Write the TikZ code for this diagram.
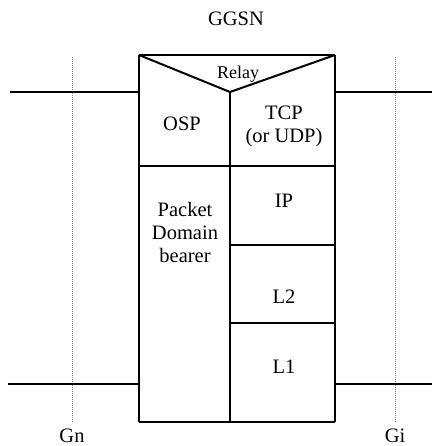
\documentclass[tikz,border=0pt]{standalone}
\usepackage{fontspec}
\setmainfont{Liberation Serif}
\begin{document}
\begin{tikzpicture}[x=1pt,y=-1pt,
  lbl/.style={font=\fontsize{20.5}{23}\selectfont, align=center, inner sep=0pt},
  heavy/.style={line width=2.6pt},
  edge/.style={line width=2pt},
  wire/.style={line width=1.6pt},
  refline/.style={line width=0.7pt, dash pattern=on 0.8pt off 1.2pt, gray}]
  \useasboundingbox (0,0) rectangle (432,446);

  % GGSN protocol stack outline
  \coordinate (tl) at (139,55);
  \coordinate (tr) at (335,55);
  \coordinate (bl) at (139,422);
  \coordinate (br) at (335,422);
  \coordinate (apex) at (230,92);
  \coordinate (bm) at (230,422);
  \coordinate (ml) at (139,166);
  \coordinate (mr) at (335,166);
  \coordinate (d1l) at (230,245);
  \coordinate (d1r) at (335,245);
  \coordinate (d2l) at (230,323);
  \coordinate (d2r) at (335,323);

  \draw[edge] (tl) -- (bl);
  \draw[edge] (tr) -- (br);
  \draw[heavy] (tl) -- (tr);
  \draw[heavy] (bl) -- (br);
  \draw[heavy] (apex) -- (bm);
  \draw[heavy] (ml) -- (mr);
  \draw[edge] (d1l) -- (d1r);
  \draw[edge] (d2l) -- (d2r);
  \draw[edge, line join=miter] (tl) -- (apex) -- (tr);

  % layer labels
  \node[lbl] (ggsn) at (236,19) {GGSN};
  \node[lbl, font=\fontsize{18}{20}\selectfont] (relay) at (238,74) {Relay};
  \node[lbl] (osp) at (182,124) {OSP};
  \node[lbl] (tcp) at (284,126) {TCP\\(or UDP)};
  \node[lbl] (pdb) at (185,232) {Packet\\Domain\\bearer};
  \node[lbl] (ip) at (284,201) {IP};
  \node[lbl] (l2) at (284,297) {L2};
  \node[lbl] (l1) at (284,367) {L1};

  % interface reference lines
  \coordinate (gnTop) at (72,57);
  \coordinate (gnBot) at (72,422);
  \coordinate (giTop) at (395,57);
  \coordinate (giBot) at (395,422);
  \draw[refline] (gnTop) -- (gnBot);
  \draw[refline] (giTop) -- (giBot);
  \node[lbl] (gn) at (72,436) {Gn};
  \node[lbl] (gi) at (395,436) {Gi};

  % external connections
  \coordinate (wl1) at (10,92);
  \coordinate (wl1e) at (139,92);
  \coordinate (wr1) at (335,92);
  \coordinate (wr1e) at (432,92);
  \coordinate (wl2) at (8,384);
  \coordinate (wl2e) at (139,384);
  \coordinate (wr2) at (335,384);
  \coordinate (wr2e) at (432,384);
  \draw[wire] (wl1) -- (wl1e);
  \draw[wire] (wr1) -- (wr1e);
  \draw[wire] (wl2) -- (wl2e);
  \draw[wire] (wr2) -- (wr2e);
\end{tikzpicture}
\end{document}
